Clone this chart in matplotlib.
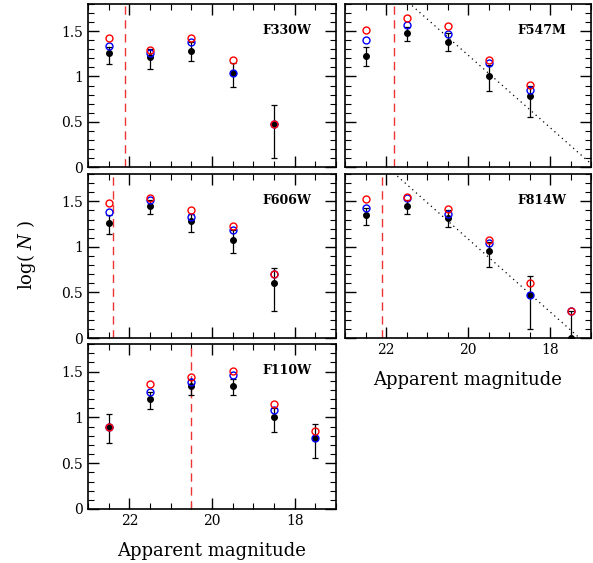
import numpy as np
import matplotlib.pyplot as plt
from matplotlib.ticker import MultipleLocator

plt.rcParams['font.family'] = ['DejaVu Serif']
plt.rcParams['mathtext.fontset'] = 'dejavuserif'

# magnitude bins
mag5 = [22.5, 21.5, 20.5, 19.5, 18.5]
mag6 = [22.5, 21.5, 20.5, 19.5, 18.5, 17.5]

# F330W
f330w_black = [1.26, 1.21, 1.28, 1.04, 0.48]
f330w_lo = [1.14, 1.08, 1.17, 0.885, 0.10]
f330w_hi = [1.33, 1.30, 1.38, 1.15, 0.68]
f330w_blue = [1.34, 1.26, 1.38, 1.04, 0.48]
f330w_red = [1.42, 1.29, 1.42, 1.18, 0.48]
f330w_cut = 22.1

# F547M
f547m_black = [1.23, 1.48, 1.38, 1.00, 0.78]
f547m_lo = [1.11, 1.39, 1.28, 0.84, 0.55]
f547m_hi = [1.33, 1.55, 1.48, 1.13, 0.89]
f547m_blue = [1.40, 1.57, 1.47, 1.15, 0.85]
f547m_red = [1.51, 1.64, 1.56, 1.18, 0.91]
f547m_cut = 21.8
f547m_fit = (0.40, 16.91)   # slope, magnitude where log N = 0

# F606W
f606w_black = [1.26, 1.45, 1.28, 1.08, 0.60]
f606w_lo = [1.14, 1.36, 1.165, 0.935, 0.30]
f606w_hi = [1.35, 1.51, 1.36, 1.18, 0.77]
f606w_blue = [1.38, 1.515, 1.33, 1.18, 0.70]
f606w_red = [1.48, 1.535, 1.40, 1.23, 0.70]
f606w_cut = 22.4

# F814W
f814w_black = [1.35, 1.45, 1.32, 0.96, 0.47, 0.0]
f814w_lo = [1.24, 1.36, 1.22, 0.78, 0.10, 0.0]
f814w_hi = [1.43, 1.51, 1.40, 1.05, 0.68, 0.30]
f814w_blue = [1.43, 1.535, 1.36, 1.04, 0.47, 0.30]
f814w_red = [1.53, 1.55, 1.42, 1.08, 0.60, 0.30]
f814w_cut = 22.1
f814w_fit = (0.40, 17.28)

# F110W
f110w_black = [0.90, 1.20, 1.34, 1.34, 1.00, 0.78]
f110w_lo = [0.72, 1.09, 1.24, 1.24, 0.84, 0.555]
f110w_hi = [1.035, 1.28, 1.42, 1.42, 1.10, 0.93]
f110w_blue = [0.90, 1.28, 1.39, 1.46, 1.08, 0.78]
f110w_red = [0.90, 1.365, 1.435, 1.505, 1.15, 0.85]
f110w_cut = 20.5

panels = [
    ('F330W', mag5, f330w_black, f330w_lo, f330w_hi, f330w_blue, f330w_red, f330w_cut, None),
    ('F547M', mag5, f547m_black, f547m_lo, f547m_hi, f547m_blue, f547m_red, f547m_cut, f547m_fit),
    ('F606W', mag5, f606w_black, f606w_lo, f606w_hi, f606w_blue, f606w_red, f606w_cut, None),
    ('F814W', mag6, f814w_black, f814w_lo, f814w_hi, f814w_blue, f814w_red, f814w_cut, f814w_fit),
    ('F110W', mag6, f110w_black, f110w_lo, f110w_hi, f110w_blue, f110w_red, f110w_cut, None),
]

fig = plt.figure(figsize=(5.93, 5.63), dpi=100)

W, H = 593.0, 563.0
boxes = [
    (88, 4, 248, 163),
    (345, 4, 246, 163),
    (88, 174, 248, 164),
    (345, 174, 246, 164),
    (88, 344, 248, 165),
]

for (name, mag, blk, lo, hi, blue, red, cut, fit), (x0, y0, w, h) in zip(panels, boxes):
    ax = fig.add_axes([x0 / W, 1 - (y0 + h) / H, w / W, h / H])
    blk = np.array(blk)
    yerr = [blk - np.array(lo), np.array(hi) - blk]
    ax.errorbar(mag, blk, yerr=yerr, fmt='o', color='black', ms=4,
                ecolor='black', elinewidth=0.9, capsize=2.5, capthick=0.9, zorder=3)
    ax.plot(mag, blue, 'o', mfc='none', mec='blue', ms=5, mew=1.0, zorder=4)
    ax.plot(mag, red, 'o', mfc='none', mec='red', ms=5, mew=1.0, zorder=5)
    ax.axvline(cut, color='#ee3333', ls=(0, (6, 4)), lw=1.0, zorder=2)
    if fit is not None:
        slope, m0 = fit
        mm = np.array([23.0, 16.0])
        ax.plot(mm, slope * (mm - m0), color='black', ls=(0, (1, 3)), lw=0.9, zorder=1)
    ax.set_xlim(23, 17)
    ax.set_ylim(0, 1.8)
    ax.xaxis.set_major_locator(MultipleLocator(2))
    ax.xaxis.set_minor_locator(MultipleLocator(0.5))
    ax.yaxis.set_major_locator(MultipleLocator(0.5))
    ax.yaxis.set_minor_locator(MultipleLocator(0.1))
    ax.yaxis.set_major_formatter(plt.FuncFormatter(lambda v, p: '%g' % v))
    ax.tick_params(which='both', direction='in', top=True, right=True, labelsize=10)
    ax.tick_params(which='major', length=8, width=1.0)
    ax.tick_params(which='minor', length=4, width=0.8)
    for s in ax.spines.values():
        s.set_linewidth(1.2)
    ax.text(0.90, 0.84, name, transform=ax.transAxes, ha='right', va='center',
            fontsize=9, fontweight='bold')
    if name in ('F547M', 'F814W'):
        ax.set_yticklabels([])
    if name in ('F330W', 'F547M', 'F606W'):
        ax.set_xticklabels([])
    if name in ('F814W', 'F110W'):
        ax.set_xlabel('Apparent magnitude', fontsize=13, labelpad=10)

fig.text(27 / W, 1 - 255 / H, r'log( $N$ )', rotation=90, ha='center', va='center', fontsize=13)

fig.savefig('out.png', dpi=100)
